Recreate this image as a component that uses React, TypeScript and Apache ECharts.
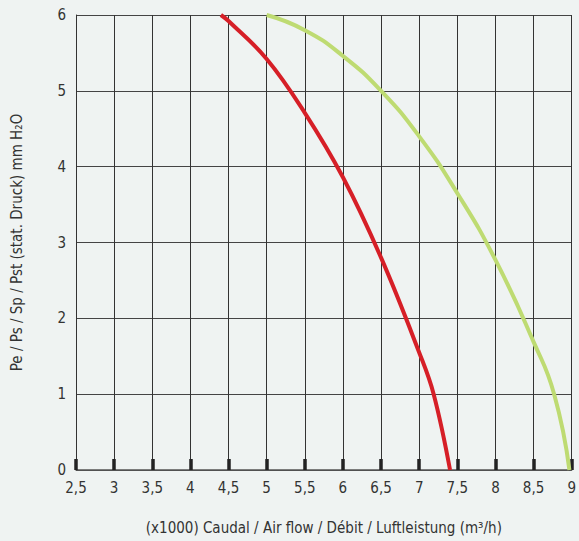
import React, { useEffect, useRef } from "react";
import * as echarts from "echarts";

const xTicks = { min: 2.5, max: 9, interval: 0.5 };
const yTicks = { min: 0, max: 6, interval: 1 };

const redCurve: [number, number][] = [
  [4.40, 6], [4.5, 5.92], [5, 5.42], [5.5, 4.71], [6, 3.86],
  [6.5, 2.80], [7, 1.55], [7.19, 1], [7.405, 0],
];
const greenCurve: [number, number][] = [
  [5.0, 6], [5.5, 5.80], [6, 5.46], [6.5, 5.0], [7, 4.40],
  [7.5, 3.65], [8, 2.77], [8.5, 1.69], [8.77, 1], [8.97, 0],
];

const xName = "(x1000) Caudal / Air flow / Débit / Luftleistung (m³/h)";
const yName = "Pe / Ps / Sp / Pst (stat. Druck) mm H₂O";

const FONT = '"Liberation Sans Narrow", "DejaVu Sans Condensed", "Roboto", sans-serif';
const BG = "#eff3f2";

export default function App() {
  const ref = useRef<HTMLDivElement>(null);
  useEffect(() => {
    document.body.style.margin = "0";
    document.body.style.background = BG;
    const chart = echarts.init(ref.current!, null, { renderer: "svg" });
    chart.setOption({
      animation: false,
      backgroundColor: BG,
      textStyle: { fontFamily: FONT },
      grid: { left: 76, right: 5, top: 15, bottom: 71, containLabel: false },
      xAxis: {
        type: "value",
        min: xTicks.min,
        max: xTicks.max,
        interval: xTicks.interval,
        name: xName,
        nameLocation: "middle",
        nameGap: 50,
        nameTextStyle: { fontFamily: FONT, fontSize: 15, color: "#333" },
        axisLine: { show: true, lineStyle: { color: "#555", width: 1.5 } },
        axisTick: { show: true, inside: true, length: 11, lineStyle: { color: "#222", width: 3.5 } },
        axisLabel: {
          fontFamily: FONT, fontSize: 15, color: "#333", margin: 10,
          formatter: (v: number) => String(v).replace(".", ","),
        },
        splitLine: { show: true, lineStyle: { color: "#333", width: 1 } },
      },
      yAxis: {
        type: "value",
        min: yTicks.min,
        max: yTicks.max,
        interval: yTicks.interval,
        name: yName,
        nameLocation: "middle",
        nameGap: 52,
        nameTextStyle: { fontFamily: FONT, fontSize: 15, color: "#333" },
        axisLine: { show: true, lineStyle: { color: "#333", width: 1 } },
        axisTick: { show: false },
        axisLabel: { fontFamily: FONT, fontSize: 15, color: "#333", margin: 10 },
        splitLine: { show: true, lineStyle: { color: "#444", width: 1 } },
      },
      series: [
        {
          type: "line",
          data: redCurve,
          smooth: 0.4,
          showSymbol: false,
          lineStyle: { color: "#d61f27", width: 4 },
          z: 3,
        },
        {
          type: "line",
          data: greenCurve,
          smooth: 0.5,
          showSymbol: false,
          lineStyle: { color: "#bedb72", width: 4 },
          z: 3,
        },
      ],
    });
    return () => chart.dispose();
  }, []);
  return <div ref={ref} style={{ width: 579, height: 541 }} />;
}
